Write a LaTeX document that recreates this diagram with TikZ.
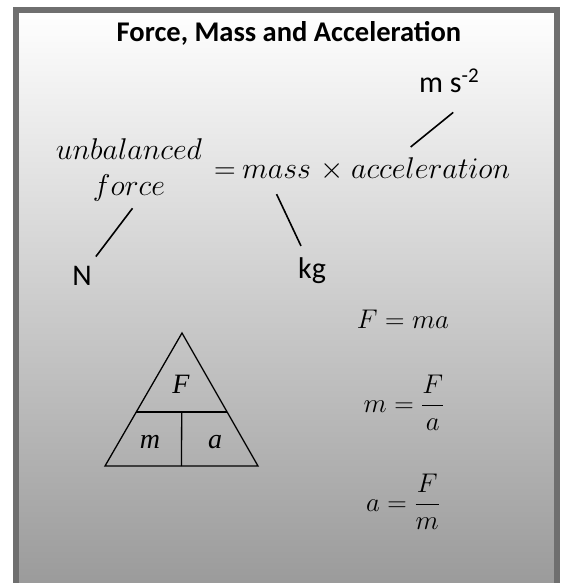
\RequirePackage{fix-cm}
\documentclass[tikz,border=0pt]{standalone}
\usepackage{fontspec}
\usepackage{amsmath}
\usetikzlibrary{positioning,calc}
\newfontfamily\calfont{Carlito}
\newfontfamily\timesfont{Liberation Serif}
\definecolor{boxframe}{HTML}{6F6F6F}
\definecolor{shadebot}{HTML}{989898}

\begin{document}
\begin{tikzpicture}[x=1pt,y=-1pt,
        lbl/.style={font=\calfont\fontsize{30}{34}\selectfont,inner sep=0pt},
        eq/.style={font=\fontsize{30}{34}\selectfont,inner sep=0pt},
        req/.style={font=\fontsize{27}{31}\selectfont,inner sep=0pt},
        tri/.style={font=\timesfont\itshape\fontsize{28}{30}\selectfont,inner sep=0pt},
        l/.style={line width=1.6pt,black},
        tl/.style={line width=1.3pt,black}]
  \clip (0,0) rectangle (561,583);
  \draw[boxframe,line width=5.5pt,top color=white,bottom color=shadebot] (16,10) rectangle (557,600);
  \node[font=\calfont\bfseries\fontsize{28.5}{32}\selectfont,anchor=base] (title) at (289,42) {Force, Mass and Acceleration};

  % word equation
  \node[eq,anchor=base] (unb) at (129,159) {$unbalanced$};
  \node[eq,below=15pt of unb] (force) {$force$};
  \node[eq,anchor=base west] (eqsign) at (214,178) {$=$};
  \node[eq,base right=6pt of eqsign] (mass) {$mass$};
  \node[eq,base right=9.5pt of mass] (times) {$\times$};
  \node[eq,base right=6.5pt of times] (accel) {$acceleration$};

  % units
  \node[lbl,anchor=base] (N) at (82,285) {N};
  \node[lbl,anchor=base] (kg) at (312,278) {kg};
  \node[lbl,anchor=base west] (units) at (419,93) {m s\textsuperscript{-2}};
  \draw[l] ([shift={(4,-9)}]N.north east) -- ([shift={(3.5,7)}]force.south);
  \draw[l] ([shift={(-11,-11)}]kg.north) -- ([shift={(0,16)}]mass.south);
  \draw[l] ([shift={(4,19)}]units.south) -- ([shift={(-20,-10)}]accel.north);

  % triangle
  \coordinate (apex) at (182,333);
  \coordinate (bl) at (105,466);
  \coordinate (br) at (258,466);
  \coordinate (ml) at ($(apex)!0.594!(bl)$);
  \coordinate (mr) at ($(apex)!0.594!(br)$);
  \draw[tl] (apex) -- (br) -- (bl) -- cycle;
  \draw[tl] (ml) -- (mr);
  \draw[tl] ($(ml)!0.5!(mr)$) -- ($(bl)!0.5!(br)$);
  \node[tri,anchor=base] (tF) at (181,393) {F};
  \node[tri,anchor=base] (tm) at (150,448) {m};
  \node[tri,anchor=base] (ta) at (215,448) {a};

  % rearranged forms
  \node[req,anchor=base] (fma) at (403,328) {$F = ma$};
  \node[req,anchor=base] (mfa) at (404,412) {$m = \dfrac{F}{a}$};
  \node[req,anchor=base] (afm) at (403,511) {$a = \dfrac{F}{m}$};
\end{tikzpicture}
\end{document}
